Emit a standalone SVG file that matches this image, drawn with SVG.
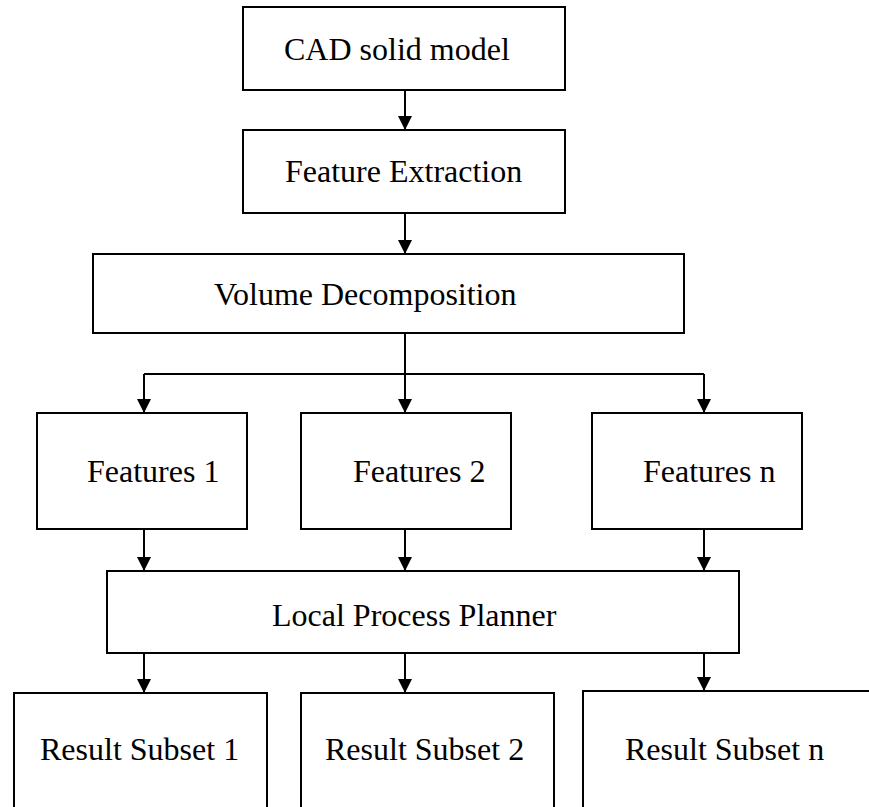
<svg xmlns="http://www.w3.org/2000/svg" width="869" height="807" viewBox="0 0 869 807">
<style>
.box{fill:#fff;stroke:#000;stroke-width:2}
.lbl{font-family:"Liberation Serif","Times New Roman",serif;font-size:32px;fill:#000}
.conn{fill:none;stroke:#000;stroke-width:2}
</style>
<defs>
<marker id="ah" viewBox="0 0 14 14" refX="14" refY="7" markerWidth="14" markerHeight="14" markerUnits="userSpaceOnUse" orient="auto">
<path d="M0,0 L14,7 L0,14 z" fill="#000"/>
</marker>
</defs>
<rect width="869" height="807" fill="#fff"/>
<g id="connectors">
<path class="conn" d="M405,90 V130" marker-end="url(#ah)"/>
<path class="conn" d="M405,213 V254" marker-end="url(#ah)"/>
<path class="conn" d="M405,333 V374"/>
<path class="conn" d="M144,374 H704"/>
<path class="conn" d="M144,374 V413" marker-end="url(#ah)"/>
<path class="conn" d="M405,374 V413" marker-end="url(#ah)"/>
<path class="conn" d="M704,374 V413" marker-end="url(#ah)"/>
<path class="conn" d="M144,529 V571" marker-end="url(#ah)"/>
<path class="conn" d="M405,529 V571" marker-end="url(#ah)"/>
<path class="conn" d="M704,529 V571" marker-end="url(#ah)"/>
<path class="conn" d="M144,653 V693" marker-end="url(#ah)"/>
<path class="conn" d="M405,653 V693" marker-end="url(#ah)"/>
<path class="conn" d="M704,653 V691" marker-end="url(#ah)"/>
</g>
<g id="cad"><rect class="box" x="243" y="7" width="322" height="83"/><text class="lbl" x="284" y="60">CAD solid model</text></g>
<g id="fe"><rect class="box" x="243" y="130" width="322" height="83"/><text class="lbl" x="285" y="182">Feature Extraction</text></g>
<g id="vd"><rect class="box" x="93" y="254" width="591" height="79"/><text class="lbl" x="214" y="305">Volume Decomposition</text></g>
<g id="f1"><rect class="box" x="37" y="413" width="210" height="116"/><text class="lbl" x="87" y="482">Features 1</text></g>
<g id="f2"><rect class="box" x="301" y="413" width="210" height="116"/><text class="lbl" x="353" y="482">Features 2</text></g>
<g id="fn"><rect class="box" x="592" y="413" width="210" height="116"/><text class="lbl" x="643" y="482">Features n</text></g>
<g id="lpp"><rect class="box" x="107" y="571" width="632" height="82"/><text class="lbl" x="272" y="626">Local Process Planner</text></g>
<g id="rs1"><rect class="box" x="14" y="693" width="253" height="130"/><text class="lbl" x="40" y="760">Result Subset 1</text></g>
<g id="rs2"><rect class="box" x="301" y="693" width="253" height="130"/><text class="lbl" x="325" y="760">Result Subset 2</text></g>
<g id="rsn"><rect class="box" x="583" y="691" width="300" height="130"/><text class="lbl" x="625" y="760">Result Subset n</text></g>
</svg>
